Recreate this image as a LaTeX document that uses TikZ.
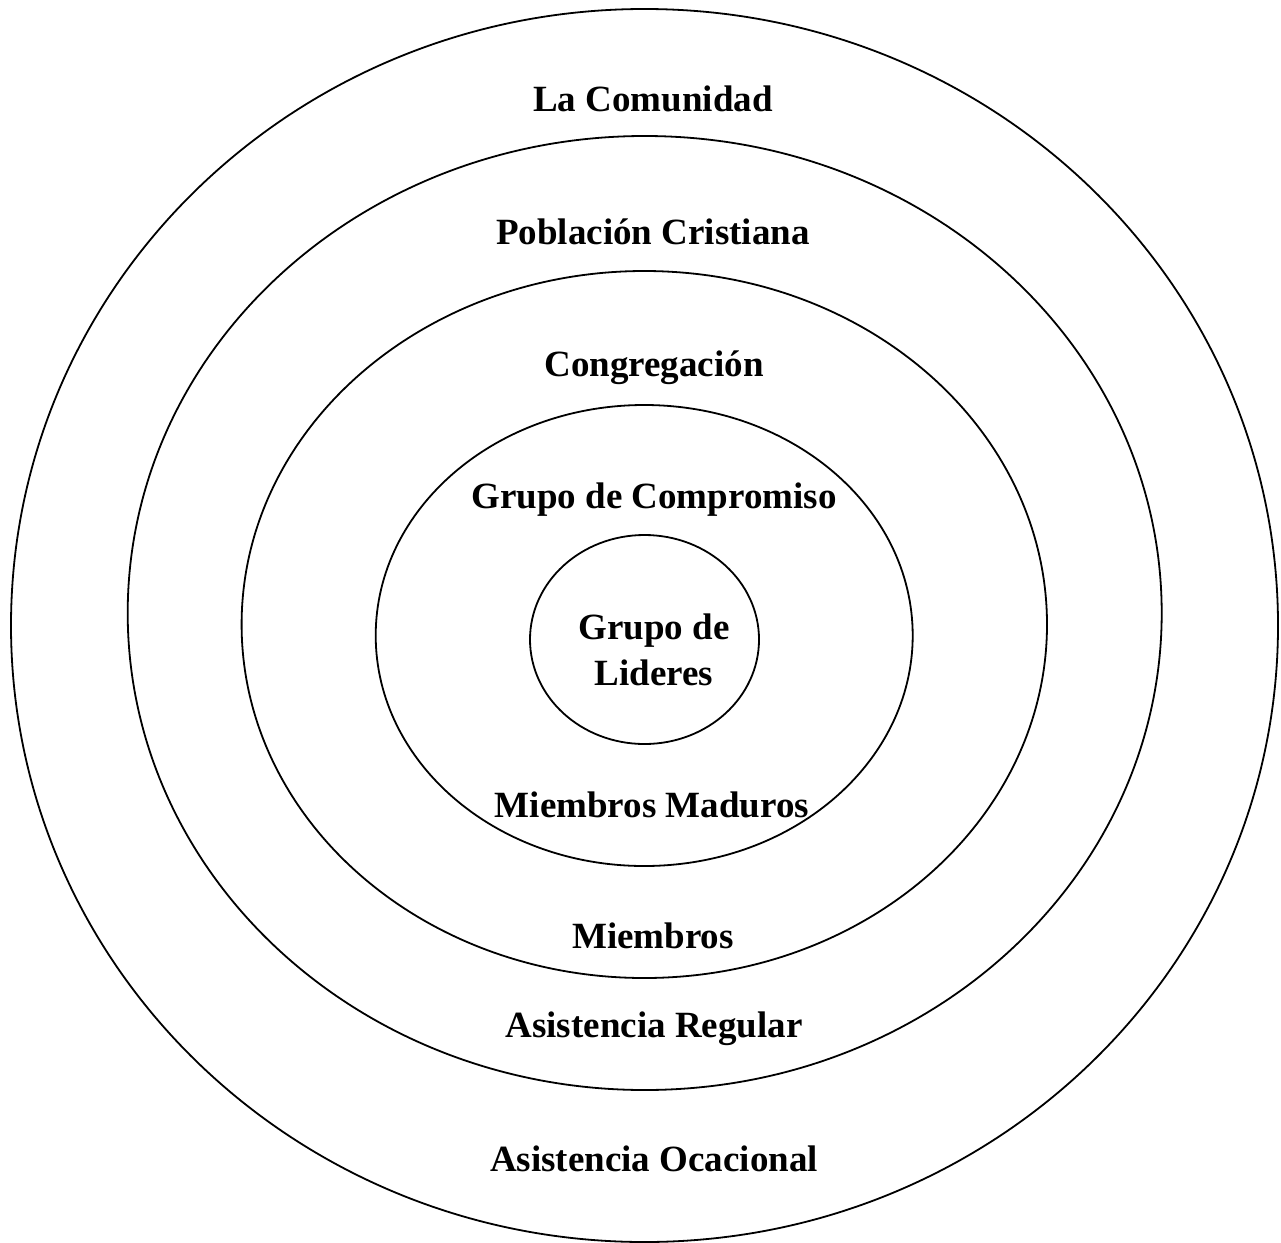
\documentclass[tikz,border=0pt]{standalone}
\usepackage{fontspec}
\setmainfont{Liberation Serif}
\begin{document}
\begin{tikzpicture}[x=1pt,y=-1pt,
  ring/.style={draw=black,line width=1.8pt},
  lbl/.style={anchor=base,inner sep=0pt,font=\bfseries\fontsize{37}{41}\selectfont}]
\useasboundingbox (0,0) rectangle (1281,1242);
\draw[ring] (644.5,625.5) ellipse [x radius=633.5, y radius=616.5];
\draw[ring] (644.7,613) ellipse [x radius=517, y radius=477];
\draw[ring] (644.3,624.5) ellipse [x radius=402.7, y radius=353.5];
\draw[ring] (644.2,635.5) ellipse [x radius=268.5, y radius=230.5];
\draw[ring] (644.5,639.5) ellipse [x radius=114.5, y radius=104.5];
\node[lbl] (com) at (653,111) {La Comunidad};
\node[lbl] (pob) at (653,244) {Población Cristiana};
\node[lbl] (con) at (654,376) {Congregación};
\node[lbl] (gcom) at (654,508) {Grupo de Compromiso};
\node[lbl] (lid1) at (654,639) {Grupo de};
\node[lbl] (lid2) at (654,685) {Lideres};
\node[lbl] (mad) at (652,817) {Miembros Maduros};
\node[lbl] (mie) at (653,948) {Miembros};
\node[lbl] (reg) at (654,1037) {Asistencia Regular};
\node[lbl] (oca) at (654,1171) {Asistencia Ocacional};
\end{tikzpicture}
\end{document}
